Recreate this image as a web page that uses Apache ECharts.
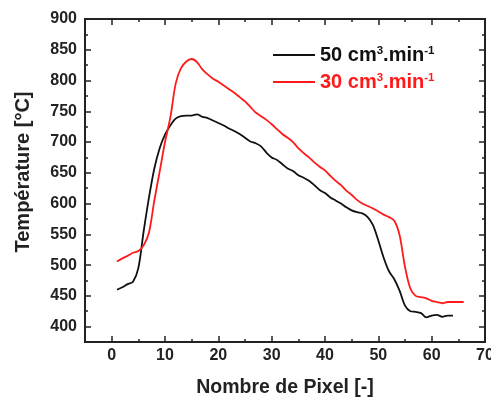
<!DOCTYPE html>
<html>
<head>
<meta charset="utf-8">
<script src="https://cdn.jsdelivr.net/npm/echarts@6/dist/echarts.min.js"></script>
<style>
html,body{margin:0;padding:0;background:#fff;}
#chart{width:491px;height:399px;}
</style>
</head>
<body>
<div id="chart"></div>
<script>
// ---- data ----
const seriesNames = ['50 cm3.min-1', '30 cm3.min-1'];
const pixel50 = [1,2,3,4,5,6,7,8,9,10,11,12,13,14,15,16,17,18,19,20,21,22,23,24,25,26,27,28,29,30,31,32,33,34,35,36,37,38,39,40,41,42,43,44,45,46,47,48,49,50,51,52,53,54,55,56,57,58,59,60,61,62,63,64];
const temp50 = [460,464,469,473,495,555,610,657,690,712,727,738,742,743,743,745,741,739,735,731,727,722,718,713,707,701,698,693,683,675,671,664,657,653,646,642,637,630,622,617,610,605,600,594,589,586,584,578,565,540,512,490,477,458,434,425,424,422,415,418,419,416,418,418];
const pixel30 = [1,2,3,4,5,6,7,8,9,10,11,12,13,14,15,16,17,18,19,20,21,22,23,24,25,26,27,28,29,30,31,32,33,34,35,36,37,38,39,40,41,42,43,44,45,46,47,48,49,50,51,52,53,54,55,56,57,58,59,60,61,62,63,64,65,66];
const temp30 = [506,511,515,520,523,532,553,605,652,700,740,795,820,831,835,830,818,810,803,798,792,786,780,773,766,757,748,742,736,729,721,713,707,700,690,682,675,667,660,654,645,637,630,621,614,606,600,596,592,587,582,578,572,548,497,462,450,448,446,442,440,438,440,440,440,440];
const xMajorTicks = [0,10,20,30,40,50,60,70];
const yMajorTicks = [400,450,500,550,600,650,700,750,800,850,900];
const xTitle = 'Nombre de Pixel [-]';
const yTitle = 'Température [°C]';
const seriesColors = ['#111111', '#ff1a1a'];

const FONT = '"Liberation Sans", Arial, sans-serif';
const AX = '#222';
const X_RANGE = [-5, 70];
const Y_RANGE = [375, 900];

function pairs(xs, ys){ return xs.map((x,i)=>[x, ys[i]]); }

const gridBox = {left:85, right:6, top:19, bottom:57, outerBoundsMode:'none'};

// grid 0: frame + short ticks (every 5 / 25) + labels on the major values only
function xMinor(top, labels){
  const a = {
    type:'value', gridIndex:0, min:X_RANGE[0], max:X_RANGE[1], interval:5,
    splitLine:{show:false},
    axisLine:{show:true, onZero:false, lineStyle:{color:AX, width:2}},
    axisTick:{show:true, inside:true, length:3, lineStyle:{color:AX, width:1.5}},
    axisLabel:{show:false}
  };
  if(top) a.position = 'top';
  if(labels){
    a.axisLabel = {show:true, customValues:xMajorTicks, fontSize:16, fontWeight:'bold', color:AX, fontFamily:FONT, margin:6};
  }
  return a;
}
function yMinor(right, labels){
  const a = {
    type:'value', gridIndex:0, min:Y_RANGE[0], max:Y_RANGE[1], interval:25,
    splitLine:{show:false},
    axisLine:{show:true, onZero:false, lineStyle:{color:AX, width:2}},
    axisTick:{show:true, inside:true, length:3, lineStyle:{color:AX, width:1.5}},
    axisLabel:{show:false}
  };
  if(right) a.position = 'right';
  if(labels){
    a.axisLabel = {show:true, customValues:yMajorTicks, fontSize:16, fontWeight:'bold', color:AX, fontFamily:FONT, margin:8};
  }
  return a;
}
// grid 1: same box, longer ticks on the labelled values
function xMajor(top){
  const a = {
    type:'value', gridIndex:1, min:X_RANGE[0], max:X_RANGE[1],
    splitLine:{show:false},
    axisLine:{show:true, onZero:false, lineStyle:{color:AX, width:2}},
    axisTick:{show:true, inside:true, length:6, customValues:xMajorTicks, lineStyle:{color:AX, width:1.5}},
    axisLabel:{show:false}
  };
  if(top) a.position = 'top';
  return a;
}
function yMajor(right){
  const a = {
    type:'value', gridIndex:1, min:Y_RANGE[0], max:Y_RANGE[1],
    splitLine:{show:false},
    axisLine:{show:true, onZero:false, lineStyle:{color:AX, width:2}},
    axisTick:{show:true, inside:true, length:6, customValues:yMajorTicks, lineStyle:{color:AX, width:1.5}},
    axisLabel:{show:false}
  };
  if(right) a.position = 'right';
  return a;
}

function legendRich(c){
  return {
    a:{fontSize:20, fontWeight:'bold', fontFamily:FONT, fill:c},
    s:{fontSize:11.5, fontWeight:'bold', fontFamily:FONT, fill:c, verticalAlign:'top', padding:[0,0,9,0]}
  };
}
function legendText(name){
  const m = name.match(/^(\d+) cm3\.min-1$/);
  return '{a|' + m[1] + ' cm}{s|3}{a|.min}{s|-1}';
}
function legendEntry(i, y){
  return [
    {type:'line', shape:{x1:273, y1:y, x2:315, y2:y}, style:{stroke:seriesColors[i], lineWidth:1.8}, silent:true},
    {type:'text', x:320, y:y, silent:true,
     style:{text:legendText(seriesNames[i]), rich:legendRich(seriesColors[i]), fill:seriesColors[i],
            font:'bold 20px ' + FONT, verticalAlign:'middle', textVerticalAlign:'middle', align:'left'}}
  ];
}

const chart = echarts.init(document.getElementById('chart'));
chart.setOption({
  animation:false,
  grid:[Object.assign({}, gridBox), Object.assign({}, gridBox)],
  xAxis:[xMinor(false,true), xMinor(true,false), xMajor(false), xMajor(true)],
  yAxis:[yMinor(false,true), yMinor(true,false), yMajor(false), yMajor(true)],
  graphic:[
    {type:'text', x:285, y:388, silent:true,
     style:{text:xTitle, font:'bold 19.5px ' + FONT, fill:AX, align:'center', textAlign:'center', verticalAlign:'middle', textVerticalAlign:'middle'}},
    {type:'text', x:23, y:172, rotation:Math.PI/2, silent:true,
     style:{text:yTitle, font:'bold 20px ' + FONT, fill:AX, align:'center', textAlign:'center', verticalAlign:'middle', textVerticalAlign:'middle'}}
  ].concat(legendEntry(0, 55), legendEntry(1, 82)),
  series:[
    {name:seriesNames[0], type:'line', xAxisIndex:0, yAxisIndex:0, data:pairs(pixel50,temp50), symbol:'none', smooth:0.3, lineStyle:{color:seriesColors[0], width:1.8}, itemStyle:{color:seriesColors[0]}},
    {name:seriesNames[1], type:'line', xAxisIndex:0, yAxisIndex:0, data:pairs(pixel30,temp30), symbol:'none', smooth:0.3, lineStyle:{color:seriesColors[1], width:1.8}, itemStyle:{color:seriesColors[1]}}
  ]
});
</script>
</body>
</html>
